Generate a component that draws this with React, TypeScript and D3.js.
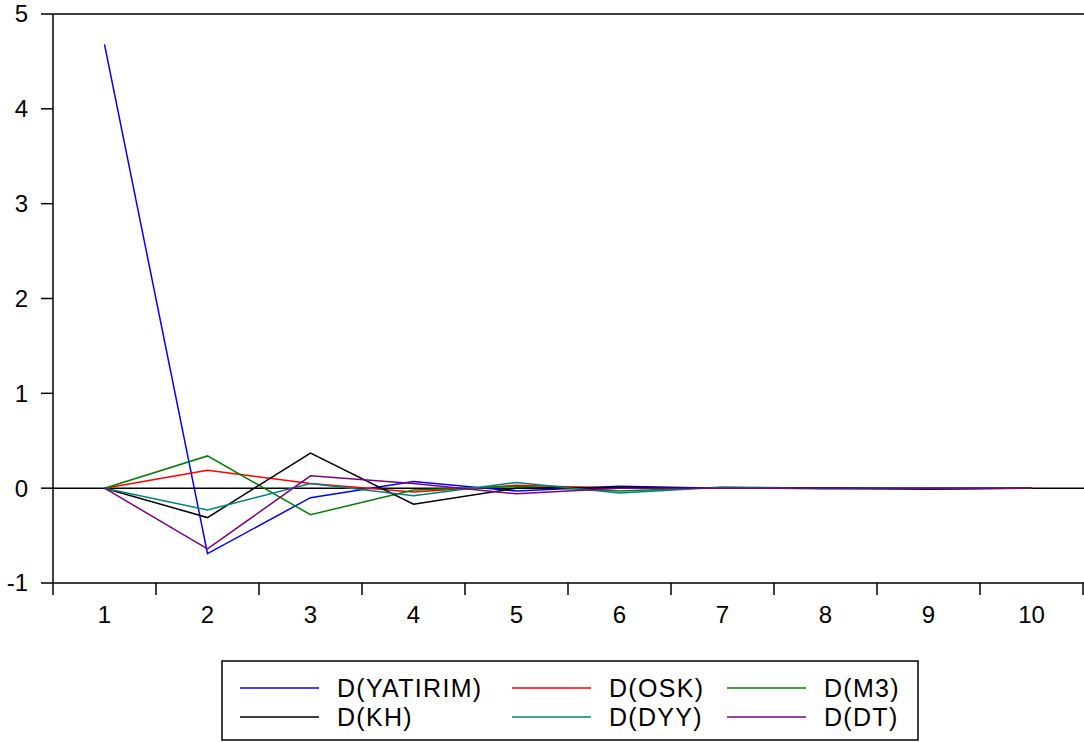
import React from 'react';
import * as d3 from 'd3';

const periods = [1, 2, 3, 4, 5, 6, 7, 8, 9, 10];
const yTicks = [-1, 0, 1, 2, 3, 4, 5];

const yatirim = [4.68, -0.69, -0.1, 0.07, -0.03, 0.02, 0.0, 0.0, -0.01, 0.0];
const osk = [0, 0.19, 0.05, -0.04, 0.03, 0.0, 0.0, 0.0, 0.0, 0.0];
const m3 = [0, 0.34, -0.28, -0.02, 0.02, -0.03, 0.01, 0.0, 0.0, 0.0];
const kh = [0, -0.31, 0.37, -0.17, 0.0, 0.01, 0.0, 0.0, -0.01, 0.0];
const dyy = [0, -0.23, 0.05, -0.08, 0.06, -0.05, 0.01, -0.01, 0.0, 0.0];
const dt = [0, -0.64, 0.13, 0.05, -0.06, 0.0, 0.0, 0.0, 0.0, 0.0];

const seriesNames = ['D(YATIRIM)', 'D(OSK)', 'D(M3)', 'D(KH)', 'D(DYY)', 'D(DT)'];
const seriesValues = [yatirim, osk, m3, kh, dyy, dt];
const seriesColors = ['#0000ff', '#ff0000', '#008000', '#000000', '#008080', '#800080'];

const App = () => {
  const left = 53;
  const right = 1083;
  const top = 14;
  const bottom = 583;

  const x = d3.scaleLinear().domain([0.5, 10.5]).range([left, right]);
  const y = d3.scaleLinear().domain([-1, 5]).range([bottom, top]);

  const line = d3
    .line<number>()
    .x((d, i) => x(periods[i]))
    .y((d) => y(d));

  const font = 'Liberation Sans, Arial, sans-serif';
  const boundaries = d3.range(0.5, 10.6, 1);

  // legend layout: 3 columns x 2 rows
  const legCols = [240, 512, 727];
  const legRows = [688, 717];

  return (
    <svg
      width={1084}
      height={742}
      style={{ position: 'absolute', left: 0, top: 0, background: '#fff' }}
    >
      {/* frame */}
      <line x1={left} x2={1084} y1={top} y2={top} stroke="#000" strokeWidth={1.5} />
      <line x1={left} x2={left} y1={top} y2={bottom} stroke="#000" strokeWidth={1.5} />
      <line x1={left} x2={1084} y1={bottom} y2={bottom} stroke="#000" strokeWidth={1.5} />

      {/* y ticks */}
      {yTicks.map((t) => (
        <g key={t}>
          <line x1={41} x2={left} y1={y(t)} y2={y(t)} stroke="#000" strokeWidth={1.5} />
          <text
            x={28}
            y={y(t)}
            dy="0.35em"
            textAnchor="end"
            fontFamily={font}
            fontSize={24}
            fill="#000"
          >
            {t}
          </text>
        </g>
      ))}

      {/* x ticks */}
      {boundaries.map((b) => (
        <line key={b} x1={x(b)} x2={x(b)} y1={bottom} y2={bottom + 12} stroke="#000" strokeWidth={1.5} />
      ))}
      {periods.map((p) => (
        <text
          key={p}
          x={x(p)}
          y={623}
          textAnchor="middle"
          fontFamily={font}
          fontSize={24}
          fill="#000"
        >
          {p}
        </text>
      ))}

      {/* zero line */}
      <line x1={left} x2={1084} y1={y(0)} y2={y(0)} stroke="#000" strokeWidth={1.5} />

      {/* series */}
      {seriesValues.map((vals, i) => (
        <path key={seriesNames[i]} d={line(vals) || ''} fill="none" stroke={seriesColors[i]} strokeWidth={1.5} />
      ))}

      {/* legend */}
      <rect x={222} y={661} width={696} height={79} fill="#fff" stroke="#000" strokeWidth={1.5} />
      {seriesNames.map((name, i) => {
        const cx = legCols[i % 3];
        const cy = legRows[Math.floor(i / 3)];
        return (
          <g key={name}>
            <line x1={cx} x2={cx + 79} y1={cy} y2={cy} stroke={seriesColors[i]} strokeWidth={1.5} />
            <text
              x={cx + 97}
              y={cy}
              dy="0.35em"
              fontFamily={font}
              fontSize={25}
              letterSpacing={1.3}
              fill="#000"
            >
              {name}
            </text>
          </g>
        );
      })}
    </svg>
  );
};

export default App;
